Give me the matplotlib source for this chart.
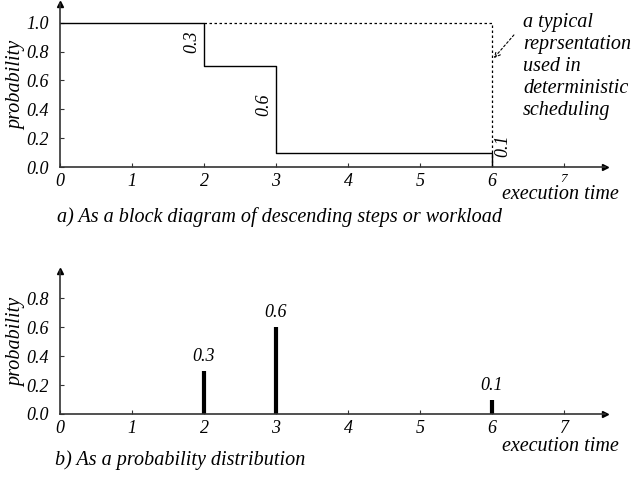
import matplotlib
matplotlib.use('Agg')
import matplotlib.pyplot as plt

plt.rcParams['font.family'] = ['Liberation Serif', 'DejaVu Serif']
plt.rcParams['font.style'] = 'italic'

# data
times = [2, 3, 6]
probs = [0.3, 0.6, 0.1]
step_x = [0, 2, 2, 3, 3, 6, 6]
step_y = [1.0, 1.0, 0.7, 0.7, 0.1, 0.1, 0.0]
det_x = [2, 6, 6]
det_y = [1.0, 1.0, 0.0]
xticks = [0, 1, 2, 3, 4, 5, 6, 7]
yticks_top = [0.0, 0.2, 0.4, 0.6, 0.8, 1.0]
yticks_bot = [0.0, 0.2, 0.4, 0.6, 0.8]

fig = plt.figure(figsize=(6.32, 4.79), dpi=100)
ax1 = fig.add_axes([60/632, 1-167/479, 545/632, 163/479])
ax2 = fig.add_axes([60/632, 1-414/479, 545/632, 143.5/479])

axcol = '#333333'
tfs = 13
fs = 14.5


def style(ax, ymax, yt):
    ax.set_xlim(0, 7.57)
    ax.set_ylim(0, ymax)
    for s in ['top', 'right']:
        ax.spines[s].set_visible(False)
    for s in ['left', 'bottom']:
        ax.spines[s].set_color(axcol)
        ax.spines[s].set_linewidth(1.2)
    ax.set_xticks(xticks)
    ax.set_xticklabels([str(t) for t in xticks])
    ax.set_yticks(yt)
    ax.set_yticklabels(['%.1f' % t for t in yt])
    ax.tick_params(direction='in', length=3, color=axcol, labelsize=tfs)
    ax.tick_params(axis='y', pad=8)
    ax.tick_params(axis='x', pad=4)
    ax.plot(1, 0, '>', color='black', ms=5, transform=ax.get_yaxis_transform(), clip_on=False)
    ax.plot(0, 1, '^', color='black', ms=5, transform=ax.get_xaxis_transform(), clip_on=False)
    ax.set_ylabel('probability', fontsize=fs, labelpad=0)


style(ax1, 1.13, yticks_top)
style(ax2, 0.99, yticks_bot)
# the "7" under the top axis is set smaller in the original
ax1.get_xticklabels()[-1].set_fontsize(9.5)

# top: step diagram
ax1.plot(det_x, det_y, color='black', lw=0.9, ls=(0, (2, 2)))
ax1.plot(step_x, step_y, color='black', lw=1.0)
ax1.text(1.95, 0.87, '0.3', rotation=90, ha='right', va='center', fontsize=tfs)
ax1.text(2.95, 0.43, '0.6', rotation=90, ha='right', va='center', fontsize=tfs)
ax1.text(6.03, 0.15, '0.1', rotation=90, ha='left', va='center', fontsize=tfs)
ax1.annotate('', xy=(6.0, 0.74), xytext=(6.33, 0.93),
             arrowprops=dict(arrowstyle='->', color='black', lw=0.8, ls=(0, (2, 2))))
ax1.text(6.43, 1.07, 'a typical\nreprsentation\nused in\ndeterministic\nscheduling',
         ha='left', va='top', fontsize=fs, linespacing=1.22)
ax1.text(6.14, -0.19, 'execution time', ha='left', va='center', fontsize=fs)
fig.text(57/632, 1-217/479, 'a) As a block diagram of descending steps or workload',
         ha='left', va='center', fontsize=fs)

# bottom: probability distribution
ax2.vlines(times, 0, probs, color='black', lw=3)
for t, p in zip(times, probs):
    ax2.text(t, p + 0.04, '%.1f' % p, ha='center', va='bottom', fontsize=tfs)
ax2.text(6.14, -0.225, 'execution time', ha='left', va='center', fontsize=fs)
fig.text(55/632, 1-460/479, 'b) As a probability distribution',
         ha='left', va='center', fontsize=fs)

fig.savefig('out.png', dpi=100)
